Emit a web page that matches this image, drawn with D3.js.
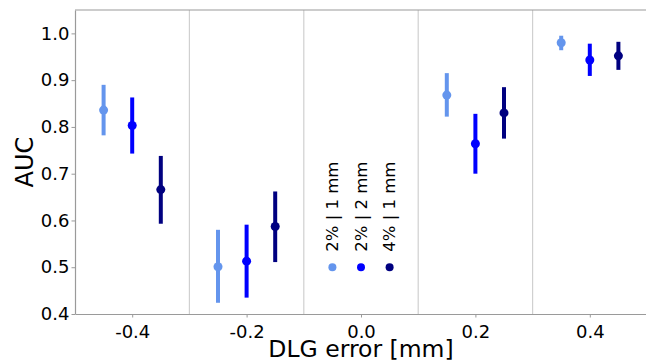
<!DOCTYPE html>
<html>
<head>
<meta charset="utf-8">
<script src="https://cdnjs.cloudflare.com/ajax/libs/d3/7.8.5/d3.min.js"></script>
<style>
  body { margin: 0; background: #fff; }
  text { font-family: "DejaVu Sans", sans-serif; }
</style>
</head>
<body>
<div id="chart"></div>
<script>
// ===========================================================
// DATA
// ===========================================================
var dlgErrors = [-0.4, -0.2, 0.2, 0.4];
var seriesNames = ["2% | 1 mm", "2% | 2 mm", "4% | 1 mm"];
var seriesOffsets = [-0.05, 0, 0.05];
var seriesColors = ["#6495ed", "#0000ff", "#000080"];

// AUC per series, one value per DLG error
var aucMean = [
    [0.836, 0.501, 0.868, 0.980],
    [0.803, 0.513, 0.764, 0.943],
    [0.666, 0.587, 0.830, 0.952]
];
var aucLow = [
    [0.782, 0.424, 0.822, 0.964],
    [0.743, 0.435, 0.700, 0.909],
    [0.593, 0.511, 0.775, 0.922]
];
var aucHigh = [
    [0.890, 0.580, 0.915, 0.995],
    [0.863, 0.591, 0.828, 0.978],
    [0.738, 0.662, 0.885, 0.982]
];

var xTicks = [-0.4, -0.2, 0.0, 0.2, 0.4];
var yTicks = [0.4, 0.5, 0.6, 0.7, 0.8, 0.9, 1.0];
var separators = [-0.3, -0.1, 0.1, 0.3];
var legendY = 0.5;

// ===========================================================
// SET MARGINS
// ===========================================================
var svgWidth = 646;
var svgHeight = 361;

var margin = { top: 10, right: -1, bottom: 47, left: 75 };

var width = svgWidth - margin.left - margin.right;
var height = svgHeight - margin.top - margin.bottom;

var svg = d3.select('#chart')
    .append('svg')
    .attr('width', svgWidth)
    .attr('height', svgHeight);

var chartGroup = svg.append('g')
    .attr('transform', `translate(${margin.left}, ${margin.top})`);

// ===========================================================
// SCALES
// ===========================================================
var x = d3.scaleLinear().domain([-0.5, 0.5]).range([0, width]);
var y = d3.scaleLinear().domain([0.4, 1.05]).range([height, 0]);

// separators between groups
chartGroup.append('g')
    .selectAll('line')
    .data(separators)
    .enter()
    .append('line')
    .attr('x1', d => x(d)).attr('x2', d => x(d))
    .attr('y1', 0).attr('y2', height)
    .attr('stroke', '#d0d0d0')
    .attr('stroke-width', 1.2);

// ===========================================================
// AXES
// ===========================================================
var fmt = d => d.toFixed(1);

var xAxis = chartGroup.append('g')
    .attr('transform', `translate(0, ${height})`)
    .call(d3.axisBottom(x).tickValues(xTicks).tickFormat(fmt).tickSize(3.5).tickSizeOuter(0));

var yAxis = chartGroup.append('g')
    .call(d3.axisLeft(y).tickValues(yTicks).tickFormat(fmt).tickSize(3.5).tickSizeOuter(0));

[xAxis, yAxis].forEach(function(ax) {
    ax.select('.domain').attr('stroke', '#9a9a9a').attr('stroke-width', 1.2);
    ax.selectAll('.tick line').attr('stroke', '#9a9a9a');
    ax.selectAll('.tick text')
        .attr('fill', '#000')
        .style('font-size', '18px')
        .style('font-family', '"DejaVu Sans", sans-serif');
});
xAxis.selectAll('.tick text').attr('dy', '0.95em');
yAxis.selectAll('.tick text').attr('x', -5.5);

// top spine
chartGroup.append('line')
    .attr('x1', 0).attr('x2', width)
    .attr('y1', 0).attr('y2', 0)
    .attr('stroke', '#9a9a9a')
    .attr('stroke-width', 1.2);

// axis labels
svg.append('text')
    .attr('x', margin.left + x(0))
    .attr('y', 357)
    .attr('text-anchor', 'middle')
    .style('font-size', '23.5px')
    .text('DLG error [mm]');

svg.append('text')
    .attr('transform', `translate(33, ${margin.top + y(0.725)}) rotate(-90)`)
    .attr('text-anchor', 'middle')
    .style('font-size', '24px')
    .text('AUC');

// ===========================================================
// ERROR BARS
// ===========================================================
seriesNames.forEach(function(name, s) {
    var pts = dlgErrors.map(function(d, i) {
        return { x: d + seriesOffsets[s], m: aucMean[s][i], lo: aucLow[s][i], hi: aucHigh[s][i] };
    });
    var g = chartGroup.append('g');
    g.selectAll('line')
        .data(pts)
        .enter()
        .append('line')
        .attr('x1', d => x(d.x)).attr('x2', d => x(d.x))
        .attr('y1', d => y(d.lo)).attr('y2', d => y(d.hi))
        .attr('stroke', seriesColors[s])
        .attr('stroke-width', 4);
    g.selectAll('circle')
        .data(pts)
        .enter()
        .append('circle')
        .attr('cx', d => x(d.x))
        .attr('cy', d => y(d.m))
        .attr('r', 4.5)
        .attr('fill', seriesColors[s]);
});

// ===========================================================
// LEGEND (vertical text)
// ===========================================================
var legend = chartGroup.append('g')
    .selectAll('g')
    .data(seriesNames)
    .enter()
    .append('g')
    .attr('transform', (d, i) => `translate(${x(seriesOffsets[i])}, ${y(legendY)})`);

legend.append('circle')
    .attr('r', 4)
    .attr('fill', (d, i) => seriesColors[i]);

legend.append('text')
    .attr('transform', 'translate(5.5, -15.5) rotate(-90)')
    .attr('text-anchor', 'start')
    .style('font-size', '16.5px')
    .text(d => d);
</script>
</body>
</html>
